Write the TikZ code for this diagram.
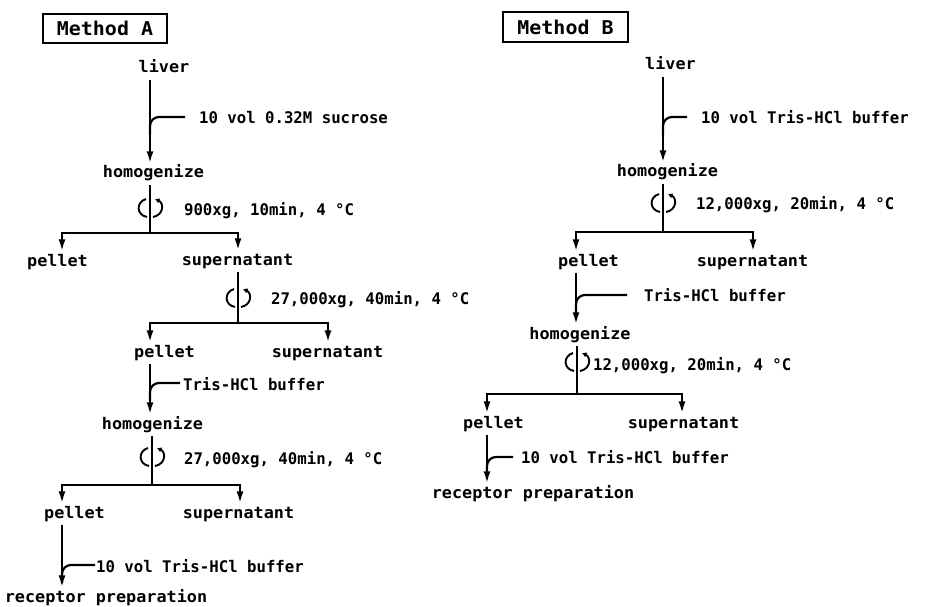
\documentclass[tikz,border=0pt]{standalone}
\usepackage{fontspec}
\usetikzlibrary{arrows.meta,calc}
\newfontfamily\labfam[FakeStretch=1.05]{DejaVu Sans Mono}
\newfontfamily\annfam[FakeStretch=0.98]{DejaVu Sans Mono}
\newcommand\lblfont{\labfam\bfseries\fontsize{16pt}{18pt}\selectfont}
\newcommand\annfont{\annfam\bfseries\fontsize{16pt}{18pt}\selectfont}
\newcommand\methfont{\labfam\bfseries\fontsize{19pt}{21pt}\selectfont}
\begin{document}
\begin{tikzpicture}[x=1pt,y=-1pt,line width=2.2pt,
  lbl/.style={font=\lblfont,inner xsep=0pt,inner ysep=2.5pt,text height=11pt,text depth=3pt,anchor=base},
  ann/.style={font=\annfont,inner sep=0pt,anchor=base west},
  methbox/.style={draw,line width=2pt,font=\methfont,minimum width=124pt,minimum height=29pt,inner sep=0pt},
  arr/.style={-{Latex[length=12pt,width=7pt]}},
  side/.style={rounded corners=9pt},
  spin/.pic={
    \draw[line width=1.9pt] (-4,-9) .. controls (-14,-6) and (-14,7) .. (-3,9);
    \draw[line width=1.9pt,-{Latex[length=4.5pt,width=5.5pt]}] (3,9) .. controls (14,7) and (14,-5) .. (5,-9);
  }]
\useasboundingbox (0,0) rectangle (927,607);

% ---------------- Method A ----------------
\node[methbox] (mA) at (105,28.5) {Method A};
\node[lbl] (liverA) at (164,73) {liver};
\node[ann] (tA0) at (198,124) {10 vol 0.32M sucrose};
\node[lbl] (homA) at (153.5,178) {homogenize};
\node[ann] (tA1) at (183,215) {900xg, 10min, 4 °C};
\node[lbl] (pelletA1) at (57.5,266) {pellet};
\node[lbl] (supA1) at (237.5,265) {supernatant};
\node[ann] (tA2) at (270,304) {27,000xg, 40min, 4 °C};
\node[lbl] (pelletA2) at (164.5,357) {pellet};
\node[lbl] (supA2) at (327.5,357) {supernatant};
\node[ann] (tA3) at (182,390) {Tris-HCl buffer};
\node[lbl] (homA2) at (152.5,429) {homogenize};
\node[ann] (tA4) at (183,464) {27,000xg, 40min, 4 °C};
\node[lbl] (pelletA3) at (74.5,518) {pellet};
\node[lbl] (supA3) at (238.5,518) {supernatant};
\node[ann] (tA5) at (95,572) {10 vol Tris-HCl buffer};
\node[lbl] (recA) at (106,602) {receptor preparation};

\coordinate (sA1) at (150,233);
\coordinate (sA2) at (238,323);
\coordinate (sA3) at (152,485);
\coordinate (bA0) at (185,117);
\coordinate (bA2) at (180,383);
\coordinate (bA3) at (95,565);

\draw[arr] (liverA.south -| sA1) -- (homA.north -| sA1);
\draw[side] (bA0) -| ($(bA0 -| sA1)+(0,18)$);
\draw (homA.south -| sA1) -- (sA1);
\pic at (150,208) {spin};
\draw[arr] (sA1) -| ([xshift=4.5pt]pelletA1.north);
\draw[arr] (sA1) -| ([xshift=0.5pt]supA1.north);

\draw (supA1.south -| sA2) -- (sA2);
\pic at (238,298) {spin};
\draw[arr] (sA2) -| ([xshift=-14.5pt]pelletA2.north);
\draw[arr] (sA2) -| ([xshift=0.5pt]supA2.north);

\draw[arr] ([xshift=-14.5pt]pelletA2.south) coordinate (pA2) -- (homA2.north -| pA2);
\draw[side] (bA2) -| ($(bA2 -| pA2)+(0,18)$);
\draw (homA2.south -| sA3) -- (sA3);
\pic at (152,457) {spin};
\draw[arr] (sA3) -| ([xshift=-12.5pt]pelletA3.north);
\draw[arr] (sA3) -| ([xshift=1.5pt]supA3.north);

\draw[arr] ([xshift=-12.5pt]pelletA3.south) coordinate (pA3) -- (recA.north -| pA3);
\draw[side] (bA3) -| ($(bA3 -| pA3)+(0,18)$);

% ---------------- Method B ----------------
\node[methbox,minimum width=125pt,minimum height=30pt] (mB) at (565.5,27) {Method B};
\node[lbl] (liverB) at (670.5,70) {liver};
\node[ann] (tB0) at (700,124) {10 vol Tris-HCl buffer};
\node[lbl] (homB) at (667.5,177) {homogenize};
\node[ann] (tB1) at (695,209) {12,000xg, 20min, 4 °C};
\node[lbl] (pelletB1) at (588.5,266) {pellet};
\node[lbl] (supB1) at (752.5,266) {supernatant};
\node[ann] (tB2) at (643,301) {Tris-HCl buffer};
\node[lbl] (homB2) at (580,339) {homogenize};
\node[ann] (tB3) at (592,370) {12,000xg, 20min, 4 °C};
\node[lbl] (pelletB2) at (493.5,428) {pellet};
\node[lbl] (supB2) at (683.5,428) {supernatant};
\node[ann] (tB4) at (520,463) {10 vol Tris-HCl buffer};
\node[lbl] (recB) at (533,498) {receptor preparation};

\coordinate (sB1) at (663,232);
\coordinate (sB2) at (577,394);
\coordinate (bB0) at (687,117);
\coordinate (bB1) at (627,295);
\coordinate (bB2) at (513,457);

\draw[arr] (liverB.south -| sB1) -- (homB.north -| sB1);
\draw[side] (bB0) -| ($(bB0 -| sB1)+(0,18)$);
\draw (homB.south -| sB1) -- (sB1);
\pic at (663,203) {spin};
\draw[arr] (sB1) -| ([xshift=-12.5pt]pelletB1.north);
\draw[arr] (sB1) -| ([xshift=0.5pt]supB1.north);

\draw[arr] ([xshift=-12.5pt]pelletB1.south) coordinate (pB1) -- (homB2.north -| pB1);
\draw[side] (bB1) -| ($(bB1 -| pB1)+(0,18)$);
\draw (homB2.south -| sB2) -- (sB2);
\pic at (577,362) {spin};
\draw[arr] (sB2) -| ([xshift=-6.5pt]pelletB2.north);
\draw[arr] (sB2) -| ([xshift=-1.5pt]supB2.north);

\draw[arr] ([xshift=-6.5pt]pelletB2.south) coordinate (pB2) -- (recB.north -| pB2);
\draw[side] (bB2) -| ($(bB2 -| pB2)+(0,18)$);
\end{tikzpicture}
\end{document}
